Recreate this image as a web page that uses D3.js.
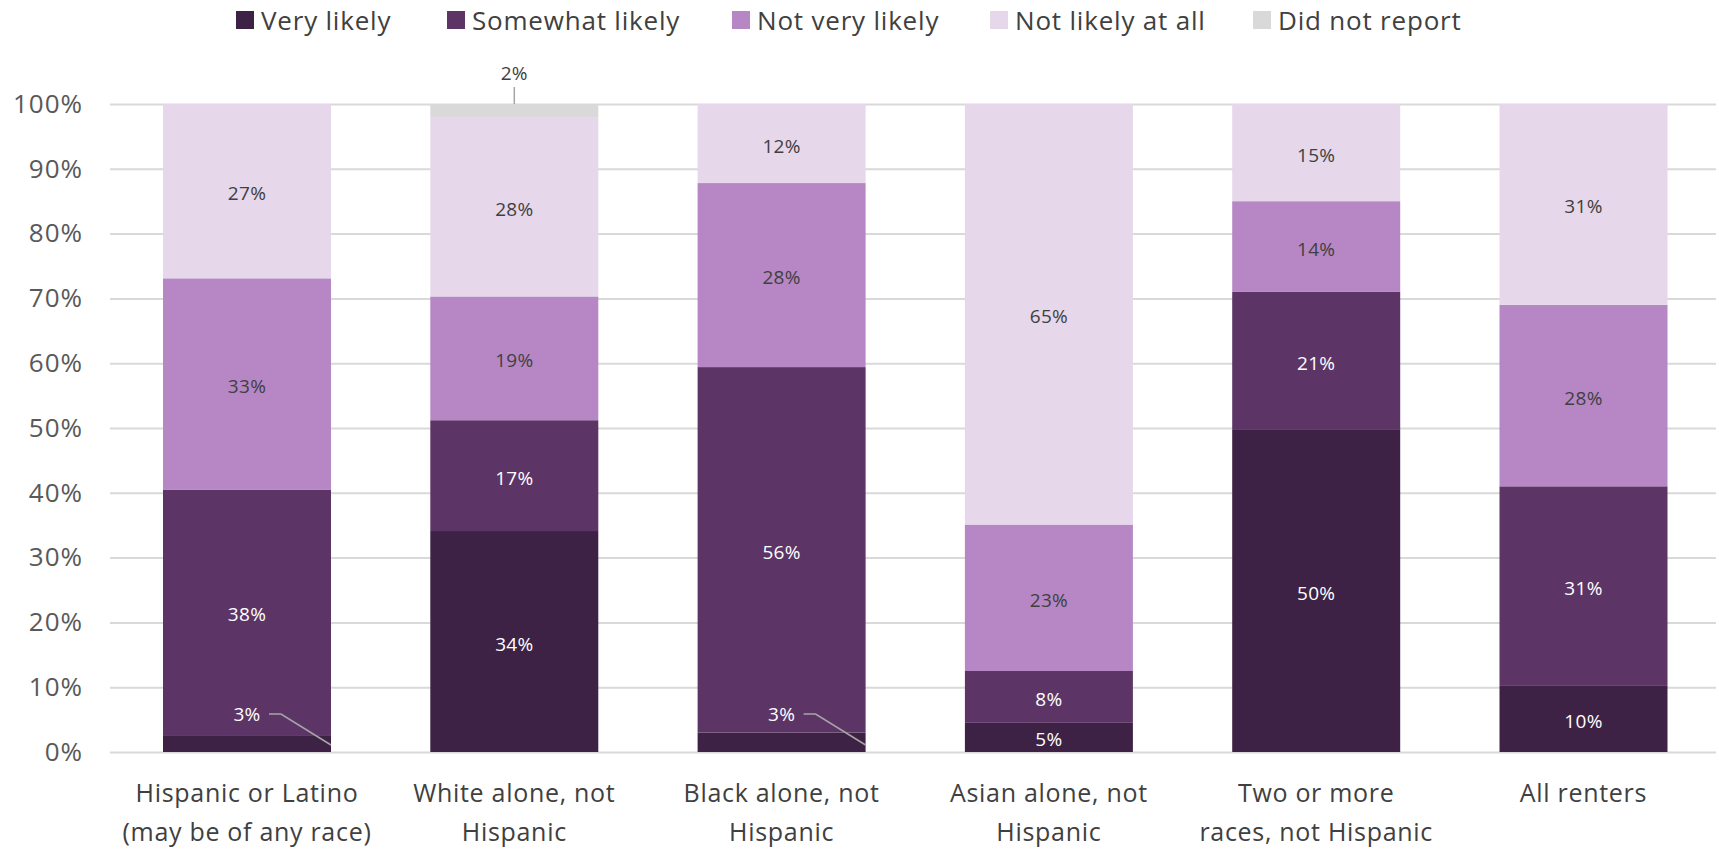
<!DOCTYPE html>
<html>
<head>
<meta charset="utf-8">
<script src="https://cdn.jsdelivr.net/npm/d3@7"></script>
<style>
  body { margin: 0; background: #fff; }
  svg { display: block; font-family: "Open Sans", Lato, sans-serif; }
</style>
</head>
<body>
<div class="chart"></div>
<script>
// chart data
const groups = [
  ["Hispanic or Latino", "(may be of any race)"],
  ["White alone, not", "Hispanic"],
  ["Black alone, not", "Hispanic"],
  ["Asian alone, not", "Hispanic"],
  ["Two or more", "races, not Hispanic"],
  ["All renters"]
];
const seriesNames = ["Very likely", "Somewhat likely", "Not very likely", "Not likely at all", "Did not report"];
const veryLikely = [2.6, 34.1, 3.0, 4.5, 49.7, 10.2];
const somewhatLikely = [37.9, 17.1, 56.4, 8.0, 21.3, 30.8];
const notVeryLikely = [32.6, 19.1, 28.4, 22.6, 14.0, 28.0];
const notLikelyAtAll = [26.9, 27.7, 12.2, 64.9, 15.0, 31.0];
const didNotReport = [0, 2.0, 0, 0, 0, 0];
const yTicks = [0, 10, 20, 30, 40, 50, 60, 70, 80, 90, 100];

const colors = ["#3e2245", "#5c3566", "#b687c4", "#e6d7eb", "#d9d9d9"];
const labelColors = ["#ffffff", "#ffffff", "#404040", "#404040", "#404040"];

const W = 1719, H = 849;
const margin = { top: 104, right: 3, bottom: 97, left: 110 };
const width = W - margin.left - margin.right;
const height = H - margin.top - margin.bottom;

const svg = d3.select(".chart").append("svg").attr("width", W).attr("height", H);
const g = svg.append("g").attr("transform", `translate(${margin.left},${margin.top})`);

const rows = groups.map((name, i) => ({
  i,
  vals: [veryLikely[i], somewhatLikely[i], notVeryLikely[i], notLikelyAtAll[i], didNotReport[i]]
}));
const stack = d3.stack().keys([0, 1, 2, 3, 4]).value((d, k) => d.vals[k])(rows);

const x = d3.scaleBand().domain(d3.range(groups.length))
  .range([163 - margin.left, 1667.5 - margin.left]).paddingInner(0.3715).paddingOuter(0);
const y = d3.scaleLinear().domain([0, 100]).range([height, 0]);

// gridlines + y labels
const yAxis = g.append("g")
  .call(d3.axisLeft(y).tickValues(yTicks).tickSize(-width).tickFormat(d => d + "%"));
yAxis.select(".domain").remove();
yAxis.selectAll(".tick line").attr("stroke", "#d9d9d9").attr("stroke-width", 2);
yAxis.selectAll(".tick text")
  .attr("x", -27).attr("fill", "#595959").style("font-size", "26px").style("letter-spacing", "1px")
  .style("font-family", "'Open Sans', sans-serif");

// bars
g.append("g").selectAll("g").data(stack).join("g")
  .attr("fill", (d, k) => colors[k])
  .selectAll("rect").data(d => d).join("rect")
  .attr("x", d => x(d.data.i))
  .attr("width", x.bandwidth())
  .attr("y", d => y(d[1]))
  .attr("height", d => y(d[0]) - y(d[1]));

// data labels
const labels = g.append("g").style("font-size", "19px").style("letter-spacing", "0.3px");
stack.forEach((layer, k) => {
  layer.forEach(d => {
    const v = d[1] - d[0];
    if (v <= 0) return;
    const cx = x(d.data.i) + x.bandwidth() / 2;
    const txt = Math.round(v) + "%";
    if (k === 4) {
      // small top segment: label above with a tick
      labels.append("text").attr("x", cx).attr("y", y(100) - 31).attr("text-anchor", "middle")
        .attr("dominant-baseline", "central").attr("fill", "#404040").text(txt);
      labels.append("line").attr("x1", cx).attr("x2", cx).attr("y1", y(100) - 17).attr("y2", y(100))
        .attr("stroke", "#a6a6a6").attr("stroke-width", 1.5);
    } else if (v < 4) {
      // small bottom segment: label moved up with a leader line
      const ly = y(6) + 1;
      labels.append("text").attr("x", cx).attr("y", ly).attr("text-anchor", "middle")
        .attr("dominant-baseline", "central").attr("fill", labelColors[k]).text(txt);
      const bx = x(d.data.i) + x.bandwidth();
      labels.append("polyline")
        .attr("points", `${cx + 22},${ly} ${cx + 34},${ly} ${bx},${y(d[0]) - 7}`)
        .attr("fill", "none").attr("stroke", "#a6a6a6").attr("stroke-width", 1.5);
    } else {
      labels.append("text").attr("x", cx).attr("y", y((d[0] + d[1]) / 2) + 2).attr("text-anchor", "middle")
        .attr("dominant-baseline", "central").attr("fill", labelColors[k]).text(txt);
    }
  });
});

// x labels
const xl = g.append("g").style("font-size", "25px").style("letter-spacing", "0.7px").attr("fill", "#404040");
groups.forEach((lines, i) => {
  const t = xl.append("text").attr("x", x(i) + x.bandwidth() / 2).attr("y", height + 50).attr("text-anchor", "middle");
  lines.forEach((ln, j) => t.append("tspan").attr("x", x(i) + x.bandwidth() / 2).attr("dy", j ? 39 : 0).text(ln));
});

// legend
const legendX = [236, 447, 732, 990, 1253];
const lg = svg.append("g").style("font-size", "26px").style("letter-spacing", "0.8px");
seriesNames.forEach((n, k) => {
  lg.append("rect").attr("x", legendX[k]).attr("y", 11).attr("width", 18).attr("height", 18).attr("fill", colors[k]);
  lg.append("text").attr("x", legendX[k] + 25).attr("y", 20).attr("dominant-baseline", "central")
    .attr("fill", "#404040").text(n);
});
</script>
</body>
</html>
